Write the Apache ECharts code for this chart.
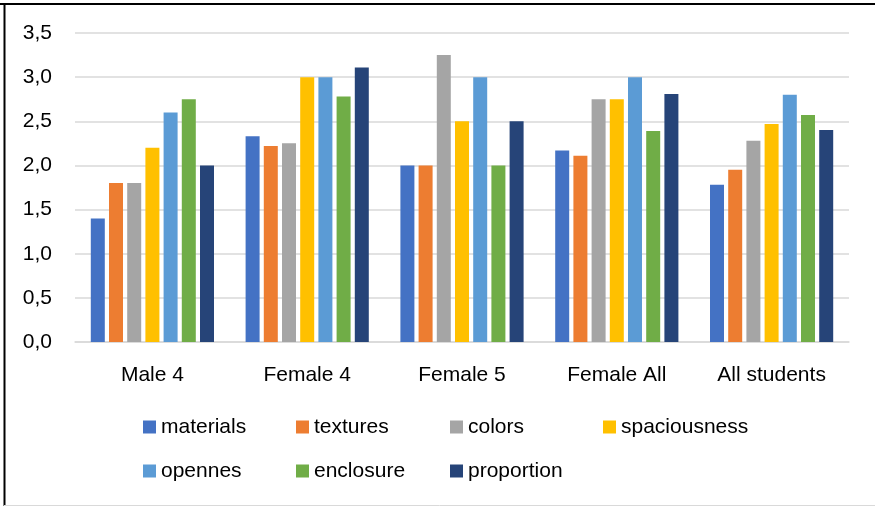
<!DOCTYPE html>
<html>
<head>
<meta charset="utf-8">
<script src="https://cdn.jsdelivr.net/npm/echarts@6/dist/echarts.min.js"></script>
<style>
html,body{margin:0;padding:0;background:#fff;}
#chart{width:875px;height:506px;}
</style>
</head>
<body>
<div id="chart"></div>
<script>
var categories = ['Male 4', 'Female 4', 'Female 5', 'Female All', 'All students'];
var materials    = [1.40, 2.33, 2.00, 2.17, 1.78];
var textures     = [1.80, 2.22, 2.00, 2.11, 1.95];
var colors       = [1.80, 2.25, 3.25, 2.75, 2.28];
var spaciousness = [2.20, 3.00, 2.50, 2.75, 2.47];
var opennes      = [2.60, 3.00, 3.00, 3.00, 2.80];
var enclosure    = [2.75, 2.78, 2.00, 2.39, 2.57];
var proportion   = [2.00, 3.11, 2.50, 2.81, 2.40];
var yTicks = [0, 0.5, 1, 1.5, 2, 2.5, 3, 3.5];

var seriesNames = ['materials', 'textures', 'colors', 'spaciousness', 'opennes', 'enclosure', 'proportion'];
var seriesData = [materials, textures, colors, spaciousness, opennes, enclosure, proportion];
var palette = ['#4472C4', '#ED7D31', '#A5A5A5', '#FFC000', '#5B9BD5', '#70AD47', '#264478'];

var FONT = 'Liberation Sans';
var legendText = {fontFamily: FONT, fontSize: 21, color: '#000', lineHeight: 22};
function mkLegend(names, left) {
  return {
    data: names, orient: 'vertical', left: left, top: 416,
    itemWidth: 13, itemHeight: 13, itemGap: 22, icon: 'rect',
    textStyle: legendText, padding: 0, selectedMode: false
  };
}

var chart = echarts.init(document.getElementById('chart'), null, {renderer: 'canvas'});
chart.setOption({
  animation: false,
  backgroundColor: '#fff',
  color: palette,
  grid: {left: 75, right: 26, top: 33, bottom: 164, containLabel: false},
  legend: [
    mkLegend(['materials', 'opennes'], 143),
    mkLegend(['textures', 'enclosure'], 296),
    mkLegend(['colors', 'proportion'], 450),
    mkLegend(['spaciousness'], 603)
  ],
  xAxis: {
    type: 'category', data: categories,
    axisLine: {lineStyle: {color: '#d9d9d9', width: 1.5}},
    axisTick: {show: false},
    axisLabel: {fontFamily: FONT, fontSize: 21, color: '#000', margin: 23}
  },
  yAxis: {
    type: 'value', min: yTicks[0], max: yTicks[yTicks.length - 1], interval: 0.5,
    axisLine: {show: false}, axisTick: {show: false},
    splitLine: {lineStyle: {color: '#d9d9d9', width: 1.5}},
    axisLabel: {fontFamily: FONT, fontSize: 21, color: '#000', margin: 23,
      formatter: function (v) { return v.toFixed(1).replace('.', ','); }}
  },
  series: seriesNames.map(function (n, i) {
    return {name: n, type: 'bar', data: seriesData[i], barWidth: 14, barGap: '30%'};
  }),
  graphic: [
    {type: 'line', shape: {x1: 0, y1: 4, x2: 875, y2: 4}, style: {stroke: '#000', lineWidth: 2}, silent: true},
    {type: 'line', shape: {x1: 4.5, y1: 3, x2: 4.5, y2: 506}, style: {stroke: '#000', lineWidth: 2}, silent: true},
    {type: 'line', shape: {x1: 4, y1: 505.5, x2: 875, y2: 505.5}, style: {stroke: '#d9d9d9', lineWidth: 1}, silent: true}
  ]
});
</script>
</body>
</html>
